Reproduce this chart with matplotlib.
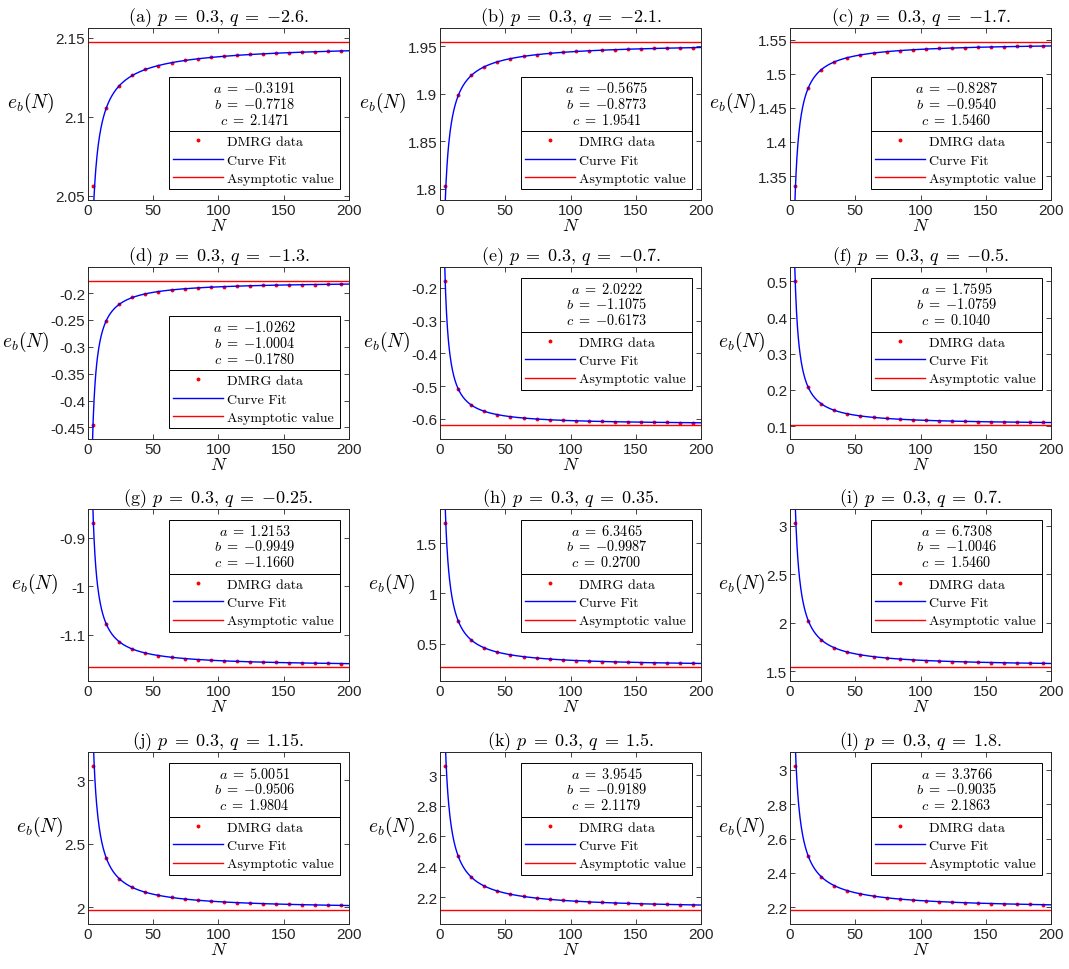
import numpy as np
import matplotlib.pyplot as plt
from matplotlib.ticker import FuncFormatter
from matplotlib.patches import Rectangle

plt.rcParams['mathtext.fontset'] = 'cm'
plt.rcParams['font.family'] = ['Liberation Sans', 'DejaVu Sans']
plt.rcParams['axes.unicode_minus'] = False

# tamanhos do sistema N (pontos DMRG)
N = [4, 14, 24, 34, 44, 54, 64, 74, 84, 94, 104, 114, 124, 134, 144, 154, 164, 174, 184, 194]

letras = ['a', 'b', 'c', 'd', 'e', 'f', 'g', 'h', 'i', 'j', 'k', 'l']
q_vals = ['-2.6', '-2.1', '-1.7', '-1.3', '-0.7', '-0.5', '-0.25', '0.35', '0.7', '1.15', '1.5', '1.8']

# parametros do ajuste e_b(N) = c + a*N^b
a_vals = [-0.3191, -0.5675, -0.8287, -1.0262, 2.0222, 1.7595, 1.2153, 6.3465, 6.7308, 5.0051, 3.9545, 3.3766]
b_vals = [-0.7718, -0.8773, -0.9540, -1.0004, -1.1075, -1.0759, -0.9949, -0.9987, -1.0046, -0.9506, -0.9189, -0.9035]
c_vals = [2.1471, 1.9541, 1.5460, -0.1780, -0.6173, 0.1040, -1.1660, 0.2700, 1.5460, 1.9804, 2.1179, 2.1863]

# dados DMRG
eb_a = [2.0563, 2.1055, 2.1196, 2.1261, 2.1299, 2.1324, 2.1342, 2.1356, 2.1367, 2.1375,
        2.1382, 2.1389, 2.1394, 2.1398, 2.1402, 2.1406, 2.1409, 2.1411, 2.1414, 2.1416]
eb_b = [1.8030, 1.8981, 1.9192, 1.9284, 1.9336, 1.9370, 1.9393, 1.9411, 1.9425, 1.9436,
        1.9445, 1.9452, 1.9458, 1.9464, 1.9469, 1.9473, 1.9476, 1.9480, 1.9483, 1.9485]
eb_c = [1.3360, 1.4792, 1.5060, 1.5173, 1.5236, 1.5276, 1.5303, 1.5324, 1.5339, 1.5351,
        1.5361, 1.5370, 1.5377, 1.5383, 1.5388, 1.5392, 1.5396, 1.5400, 1.5403, 1.5406]
eb_d = [-0.4450, -0.2512, -0.2207, -0.2081, -0.2013, -0.1970, -0.1940, -0.1918, -0.1902, -0.1889,
        -0.1878, -0.1870, -0.1863, -0.1856, -0.1851, -0.1847, -0.1842, -0.1839, -0.1836, -0.1833]
eb_e = [-0.1800, -0.5085, -0.5574, -0.5766, -0.5867, -0.5929, -0.5971, -0.6001, -0.6024, -0.6041,
        -0.6055, -0.6066, -0.6076, -0.6084, -0.6091, -0.6097, -0.6102, -0.6106, -0.6110, -0.6114]
eb_f = [0.5000, 0.2069, 0.1616, 0.1436, 0.1340, 0.1281, 0.1240, 0.1212, 0.1190, 0.1173,
        0.1159, 0.1148, 0.1138, 0.1131, 0.1124, 0.1118, 0.1113, 0.1108, 0.1104, 0.1101]
eb_g = [-0.8700, -1.0780, -1.1145, -1.1296, -1.1378, -1.1430, -1.1466, -1.1492, -1.1512, -1.1528,
        -1.1540, -1.1551, -1.1560, -1.1567, -1.1573, -1.1579, -1.1584, -1.1588, -1.1592, -1.1596]
eb_h = [1.7000, 0.7249, 0.5355, 0.4575, 0.4150, 0.3881, 0.3697, 0.3562, 0.3460, 0.3379,
        0.3314, 0.3260, 0.3215, 0.3177, 0.3144, 0.3115, 0.3090, 0.3067, 0.3047, 0.3029]
eb_i = [3.0240, 2.0210, 1.8224, 1.7408, 1.6963, 1.6684, 1.6492, 1.6352, 1.6245, 1.6161,
        1.6094, 1.6038, 1.5991, 1.5951, 1.5917, 1.5887, 1.5861, 1.5838, 1.5817, 1.5799]
eb_j = [3.1100, 2.3877, 2.2244, 2.1556, 2.1175, 2.0933, 2.0764, 2.0641, 2.0546, 2.0470,
        2.0409, 2.0359, 2.0316, 2.0280, 2.0248, 2.0221, 2.0197, 2.0175, 2.0156, 2.0139]
eb_k = [3.0580, 2.4678, 2.3311, 2.2727, 2.2401, 2.2191, 2.2045, 2.1937, 2.1853, 2.1787,
        2.1733, 2.1688, 2.1651, 2.1618, 2.1590, 2.1565, 2.1544, 2.1524, 2.1507, 2.1492]
eb_l = [3.0200, 2.4974, 2.3775, 2.3259, 2.2969, 2.2782, 2.2651, 2.2554, 2.2479, 2.2420,
        2.2371, 2.2331, 2.2297, 2.2267, 2.2242, 2.2220, 2.2200, 2.2182, 2.2167, 2.2152]
dados = [eb_a, eb_b, eb_c, eb_d, eb_e, eb_f, eb_g, eb_h, eb_i, eb_j, eb_k, eb_l]

yticks = [[2.05, 2.1, 2.15], [1.8, 1.85, 1.9, 1.95], [1.35, 1.4, 1.45, 1.5, 1.55],
          [-0.45, -0.4, -0.35, -0.3, -0.25, -0.2], [-0.6, -0.5, -0.4, -0.3, -0.2],
          [0.1, 0.2, 0.3, 0.4, 0.5], [-1.1, -1, -0.9], [0.5, 1, 1.5], [1.5, 2, 2.5, 3],
          [2, 2.5, 3], [2.2, 2.4, 2.6, 2.8, 3], [2.2, 2.4, 2.6, 2.8, 3]]
embaixo = ['a', 'b', 'c', 'd']  # legenda no canto inferior direito

cinza = '#262626'
fig = plt.figure(figsize=(10.69, 9.70), dpi=100)
W, H = 1069, 970
col_x = [88, 440, 790]
row_y = [29, 268, 510, 753]
aw, ah = 261, 172

# caixa da legenda (em pixels dentro do eixo)
bx0, bw = 1 - (9 + 171) / aw, 171 / aw
h_tit = 54 / ah

N_fit = np.linspace(1, 200, 600)
eixos, legendas = [], []
for i in range(12):
    r, cidx = divmod(i, 3)
    ax = fig.add_axes([col_x[cidx] / W, 1 - (row_y[r] + ah) / H, aw / W, ah / H])
    a, b, c = a_vals[i], b_vals[i], c_vals[i]
    y = dados[i]
    ax.plot(N, y, 'o', color='red', ms=2.8, mec='none', label='DMRG data')
    ax.plot(N_fit, c + a * N_fit ** b, color='blue', lw=1.0, label='Curve Fit')
    ax.axhline(c, color='red', lw=1.0, label='Asymptotic value')

    lo, hi = min(min(y), c), max(max(y), c)
    pad = 0.1 * (hi - lo)
    ax.set_ylim(lo - pad, hi + pad)
    ax.set_xlim(0, 200)
    ax.set_xticks([0, 50, 100, 150, 200])
    ax.set_yticks(yticks[i])
    ax.yaxis.set_major_formatter(FuncFormatter(lambda v, p: '%g' % v))
    ax.tick_params(direction='in', length=3.5, width=0.6, top=True, right=True,
                   labelsize=11, colors=cinza, pad=2)
    for s in ax.spines.values():
        s.set_color(cinza)
        s.set_linewidth(0.7)
    ax.set_title(r'(%s) $p\;=\;0.3,\,q\;=\;{%s}$.' % (letras[i], q_vals[i]), fontfamily='cmr10',
                 fontsize=13, pad=5)
    ax.set_xlabel(r'$N$', fontsize=13, labelpad=0)
    ax.set_ylabel(r'$e_b(N)$', fontsize=14, rotation=0, ha='right', va='bottom', labelpad=1)

    if letras[i] in embaixo:
        loc, ancora = 'lower left', (bx0, 11 / ah, bw, 0)
    else:
        loc, ancora = 'upper left', (bx0, 1 - 11 / ah - h_tit, bw, 0)
    leg = ax.legend(loc=loc, bbox_to_anchor=ancora, mode='expand', borderaxespad=0,
                    prop={'family': 'cmr10', 'size': 10}, fancybox=False, framealpha=1,
                    edgecolor='black', handlelength=3.6, handletextpad=0.3, borderpad=0.3,
                    labelspacing=0.4, numpoints=1)
    leg.get_frame().set_linewidth(0.7)
    eixos.append(ax)
    legendas.append(leg)

fig.canvas.draw()

for i, ax in enumerate(eixos):
    bb = legendas[i].get_window_extent().transformed(ax.transAxes.inverted())
    topo = bb.y1
    ax.add_patch(Rectangle((bx0, topo), bw, h_tit, transform=ax.transAxes, fill=True,
                           facecolor='white', edgecolor='black', lw=0.7, zorder=6,
                           clip_on=False))
    texto = '$a\\;=\\;{%.4f}$\n$b\\;=\\;{%.4f}$\n$c\\;=\\;{%.4f}$' % (a_vals[i], b_vals[i], c_vals[i])
    ax.text(bx0 + bw / 2, topo + h_tit / 2 + 1 / ah, texto, transform=ax.transAxes, ha='center',
            va='center', fontsize=10.3, linespacing=1.08, zorder=7)

fig.savefig('out.png', dpi=100)
